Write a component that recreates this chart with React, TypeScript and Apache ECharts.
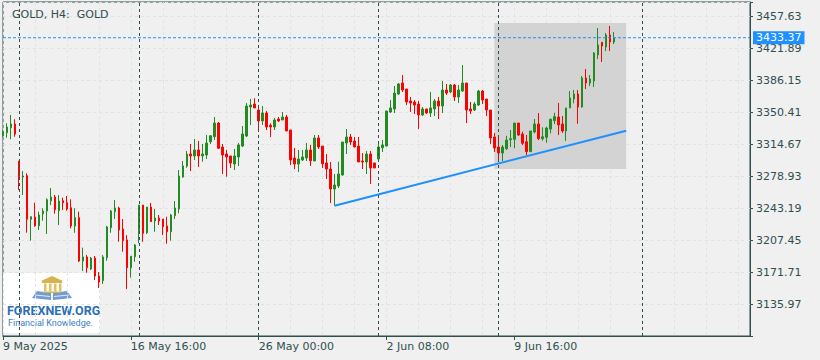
import React, { useEffect, useRef } from "react";
import * as echarts from "echarts";

// ---- data (GOLD, H4) ----
const opens = [
  3323.9, 3327.3, 3332.9, 3337.0, 3295.7, 3277.8, 3279.3, 3230.6, 3233.1, 3223.4,
  3236.8, 3239.8, 3251.3, 3255.5, 3240.2, 3251.3, 3249.1, 3243.5, 3223.1, 3232.4,
  3184.0, 3188.5, 3175.1, 3187.3, 3167.2, 3162.0, 3187.7, 3221.2, 3239.1, 3243.2,
  3219.7, 3207.5, 3176.5, 3188.8, 3217.8, 3246.5, 3215.6, 3244.3, 3228.7, 3232.0,
  3230.9, 3223.1, 3216.7, 3234.6, 3242.1, 3277.8, 3290.1, 3303.5, 3301.3, 3308.0,
  3301.3, 3302.4, 3317.2, 3322.8, 3338.1, 3311.3, 3303.5, 3301.3, 3292.3, 3300.2,
  3312.4, 3323.6, 3356.0, 3359.3, 3352.6, 3340.4, 3349.3, 3335.6, 3333.7, 3342.6,
  3341.5, 3344.8, 3330.3, 3299.0, 3292.3, 3296.8, 3299.0, 3308.0, 3295.7, 3321.4,
  3312.4, 3293.5, 3286.7, 3264.4, 3267.8, 3280.1, 3315.8, 3322.5, 3318.0, 3312.4,
  3295.7, 3294.6, 3303.5, 3293.5, 3297.9, 3310.5, 3312.4, 3350.4, 3353.8, 3370.5,
  3382.8, 3376.1, 3362.7, 3361.6, 3359.3, 3347.1, 3353.8, 3349.3, 3353.8, 3362.7,
  3357.1, 3375.0, 3372.8, 3380.6, 3367.2, 3373.9, 3382.8, 3353.8, 3352.6, 3358.2,
  3373.9, 3364.9, 3352.6, 3322.5, 3311.3, 3304.6, 3309.4, 3319.5, 3319.9, 3338.1,
  3325.8, 3317.2, 3306.1, 3328.1, 3337.0, 3320.6, 3322.2, 3331.4, 3340.7, 3344.8,
  3337.0, 3329.2, 3354.9, 3364.9, 3370.5, 3356.0, 3388.4, 3382.8, 3385.0, 3414.1,
  3428.3, 3423.0, 3436.4, 3428.6,
];
const closes = [
  3328.4, 3333.7, 3337.0, 3325.8, 3278.2, 3278.9, 3230.6, 3233.5, 3223.4, 3235.4,
  3239.8, 3252.5, 3255.5, 3241.3, 3251.0, 3249.1, 3242.1, 3223.1, 3232.4, 3184.0,
  3188.5, 3176.5, 3187.3, 3167.2, 3160.5, 3188.5, 3222.0, 3239.8, 3243.2, 3218.6,
  3206.7, 3176.5, 3189.3, 3201.9, 3246.5, 3214.9, 3244.3, 3227.9, 3232.0, 3228.7,
  3222.3, 3216.7, 3235.4, 3243.2, 3278.9, 3290.1, 3303.5, 3301.3, 3308.0, 3301.3,
  3303.5, 3315.8, 3323.9, 3338.1, 3309.9, 3302.4, 3300.2, 3293.5, 3301.3, 3313.6,
  3325.8, 3357.1, 3358.2, 3354.9, 3340.4, 3349.3, 3333.7, 3333.7, 3341.5, 3340.4,
  3344.8, 3329.2, 3296.8, 3292.3, 3297.9, 3300.2, 3308.0, 3296.0, 3321.4, 3311.3,
  3292.7, 3286.7, 3264.4, 3268.9, 3281.2, 3316.9, 3322.5, 3316.9, 3311.3, 3294.6,
  3294.6, 3303.5, 3287.9, 3287.9, 3311.3, 3313.6, 3351.5, 3354.9, 3371.6, 3381.7,
  3375.0, 3361.6, 3360.5, 3358.2, 3347.1, 3353.8, 3349.3, 3354.9, 3362.7, 3357.1,
  3375.0, 3371.6, 3380.6, 3367.2, 3375.0, 3382.8, 3352.6, 3351.5, 3359.3, 3373.9,
  3363.8, 3352.6, 3321.4, 3310.2, 3304.6, 3311.3, 3319.1, 3320.6, 3338.1, 3324.7,
  3315.5, 3306.1, 3329.2, 3337.0, 3320.6, 3322.8, 3332.5, 3342.3, 3345.2, 3335.9,
  3329.2, 3354.9, 3366.1, 3370.5, 3356.0, 3388.4, 3382.8, 3387.3, 3416.3, 3425.2,
  3424.1, 3436.4, 3428.6, 3433.37,
];
const lows = [
  3322.5, 3321.7, 3319.9, 3322.8, 3263.3, 3257.7, 3215.6, 3206.7, 3222.3, 3218.6,
  3229.0, 3214.2, 3246.5, 3236.8, 3224.2, 3241.0, 3240.2, 3220.5, 3215.6, 3182.9,
  3172.8, 3170.9, 3173.9, 3162.8, 3153.8, 3158.3, 3184.3, 3215.6, 3230.9, 3205.5,
  3194.4, 3152.7, 3165.4, 3183.2, 3203.8, 3205.5, 3214.2, 3227.9, 3216.7, 3224.2,
  3213.0, 3203.3, 3206.7, 3230.9, 3237.3, 3277.0, 3288.2, 3284.5, 3296.8, 3289.0,
  3294.9, 3297.9, 3314.7, 3319.1, 3309.1, 3281.2, 3278.2, 3287.9, 3285.6, 3290.1,
  3311.3, 3322.5, 3335.9, 3354.9, 3329.2, 3335.9, 3330.3, 3322.5, 3330.3, 3339.2,
  3341.5, 3329.2, 3291.2, 3286.7, 3283.4, 3295.7, 3295.7, 3290.1, 3295.7, 3309.1,
  3287.9, 3275.6, 3248.8, 3245.8, 3265.5, 3279.3, 3303.5, 3313.6, 3311.3, 3294.6,
  3286.7, 3281.2, 3270.0, 3287.9, 3294.6, 3305.7, 3312.4, 3349.3, 3349.3, 3369.4,
  3372.8, 3358.2, 3350.4, 3348.2, 3331.4, 3345.9, 3348.2, 3344.8, 3345.9, 3342.6,
  3349.3, 3369.4, 3371.6, 3362.7, 3360.5, 3372.8, 3338.1, 3348.2, 3351.5, 3357.1,
  3359.3, 3345.9, 3314.7, 3305.7, 3296.8, 3295.7, 3308.0, 3311.3, 3309.9, 3323.9,
  3313.6, 3302.4, 3306.1, 3326.6, 3319.1, 3318.4, 3316.1, 3326.6, 3337.0, 3324.7,
  3327.0, 3318.0, 3354.9, 3360.1, 3337.3, 3355.2, 3376.1, 3379.5, 3378.3, 3409.6,
  3406.3, 3418.5, 3418.5, 3426.4,
];
const highs = [
  3330.3, 3337.8, 3347.1, 3342.3, 3295.7, 3284.5, 3281.9, 3233.5, 3249.1, 3239.1,
  3242.9, 3254.0, 3265.5, 3257.7, 3257.7, 3254.7, 3256.6, 3252.9, 3242.9, 3239.1,
  3198.9, 3190.7, 3188.5, 3189.6, 3171.7, 3190.7, 3223.1, 3241.0, 3252.1, 3244.6,
  3230.9, 3213.0, 3189.3, 3203.0, 3246.5, 3246.5, 3244.3, 3248.8, 3242.1, 3235.4,
  3230.9, 3233.5, 3236.5, 3251.0, 3285.6, 3295.7, 3306.9, 3314.7, 3320.3, 3318.0,
  3314.7, 3324.7, 3324.7, 3344.8, 3339.2, 3314.7, 3308.0, 3301.3, 3309.1, 3315.8,
  3334.8, 3360.5, 3364.9, 3365.7, 3357.4, 3357.1, 3351.5, 3337.8, 3343.7, 3344.8,
  3350.4, 3347.1, 3330.3, 3310.2, 3308.0, 3308.0, 3315.8, 3313.6, 3324.7, 3324.7,
  3312.4, 3303.5, 3294.6, 3281.2, 3294.9, 3316.9, 3331.4, 3325.8, 3322.5, 3322.5,
  3304.6, 3306.9, 3306.9, 3293.5, 3315.8, 3319.1, 3351.5, 3363.8, 3379.5, 3382.8,
  3391.7, 3376.1, 3367.2, 3363.8, 3362.7, 3356.0, 3353.8, 3372.8, 3364.9, 3367.2,
  3385.0, 3381.7, 3381.7, 3381.7, 3380.6, 3402.9, 3382.8, 3361.6, 3361.6, 3375.0,
  3375.0, 3364.9, 3352.6, 3327.0, 3321.4, 3313.6, 3323.9, 3330.3, 3338.1, 3338.1,
  3328.4, 3324.7, 3329.2, 3342.6, 3349.3, 3333.3, 3334.0, 3342.9, 3349.6, 3360.5,
  3345.9, 3354.9, 3373.9, 3375.0, 3375.0, 3390.6, 3398.4, 3391.7, 3417.4, 3444.2,
  3428.6, 3438.6, 3446.5, 3439.8,
];

const slotCount = 188; // bar slots incl. empty future area
const categories = Array.from({ length: slotCount }, (_, i) => String(i));
const xTickIdx = [0, 32, 64, 96, 128];
const xTickText = ["9 May 2025", "16 May 16:00", "26 May 00:00", "2 Jun 08:00", "9 Jun 16:00"];
const separatorIdx = [4, 34, 64, 94, 124, 160];
const yTickLabels = [3135.97, 3171.71, 3207.45, 3243.19, 3278.93, 3314.67, 3350.41, 3386.15, 3421.89, 3457.63];
const yMin = 3100.23;
const yMax = 3473.27;
const yStep = 35.74;
const lastPrice = 3433.37;
const trendPoints = [
  [83, 3245.8],
  [156, 3329.5],
];
const boxIdx = [123, 156];
const boxPrice = [3286.8, 3449.8];

const AXIS = "#2f4f4f";
const GRIDC = "#e2e2e2";
const BLUE = "#1e90ff";
const FONT = "DejaVu Sans";

export default function App() {
  const ref = useRef<HTMLDivElement>(null);
  useEffect(() => {
    if (!ref.current) return;
    const chart = echarts.init(ref.current, null, { renderer: "svg" });
    const candles = opens.map((o, i) => [o, closes[i], lows[i], highs[i]]);
    const option: any = {
      animation: false,
      backgroundColor: "#f0f0f0",
      title: {
        text: "GOLD, H4:  GOLD",
        left: 7,
        top: 4,
        textStyle: { fontSize: 11, fontWeight: "normal", color: AXIS, fontFamily: FONT },
      },
      grid: {
        left: 2,
        right: 70,
        top: 2,
        bottom: 24,
        show: true,
        borderColor: AXIS,
        borderWidth: 1,
        backgroundColor: "transparent",
      },
      xAxis: {
        type: "category",
        data: categories,
        boundaryGap: false,
        axisLine: { show: true, lineStyle: { color: AXIS } },
        axisTick: {
          show: true,
          length: 4,
          interval: (i: number) => xTickIdx.includes(i),
          lineStyle: { color: AXIS },
        },
        axisLabel: {
          show: true,
          interval: (i: number) => xTickIdx.includes(i),
          formatter: (_v: string, i: number) => {
            const k = xTickIdx.indexOf(i);
            return k >= 0 ? xTickText[k] : "";
          },
          align: "left",
          margin: 5,
          color: AXIS,
          fontSize: 11,
          fontFamily: FONT,
        },
        splitLine: {
          show: true,
          interval: (i: number) => i % 8 === 0,
          lineStyle: { color: GRIDC, type: [3, 3], width: 1 },
        },
      },
      yAxis: {
        type: "value",
        position: "right",
        min: yMin,
        max: yMax,
        interval: yStep,
        axisLine: { show: true, lineStyle: { color: AXIS } },
        axisTick: { show: true, length: 3, lineStyle: { color: AXIS } },
        axisLabel: {
          margin: 6,
          color: AXIS,
          fontSize: 11,
          fontFamily: FONT,
          formatter: (v: number) => {
            const hit = yTickLabels.find((t) => Math.abs(t - v) < 0.01);
            return hit !== undefined ? hit.toFixed(2) : "";
          },
        },
        splitLine: { show: true, lineStyle: { color: GRIDC, type: [3, 3], width: 1 } },
      },
      series: [
        {
          type: "line",
          data: [],
          z: -1,
          silent: true,
          markArea: {
            silent: true,
            itemStyle: { color: "#d3d3d3" },
            data: [
              [
                { xAxis: categories[boxIdx[0]], yAxis: boxPrice[1] },
                { xAxis: categories[boxIdx[1]], yAxis: boxPrice[0] },
              ],
            ],
          },
        },
        {
          type: "candlestick",
          data: candles,
          barWidth: 2,
          itemStyle: {
            color: "#228b22",
            color0: "#ff0000",
            borderColor: "#228b22",
            borderColor0: "#ff0000",
            borderWidth: 1,
          },
          markLine: {
            silent: true,
            symbol: "none",
            animation: false,
            lineStyle: { color: AXIS, type: [3, 3], width: 1 },
            label: { show: false },
            data: separatorIdx.map((i) => ({ xAxis: categories[i] })),
          },
        },
        {
          // current price (bid) line across the whole chart
          type: "line",
          data: [
            [0, lastPrice],
            [slotCount - 1, lastPrice],
          ],
          symbol: "none",
          silent: true,
          z: 4,
          color: BLUE,
          lineStyle: { color: BLUE, type: [3, 2], width: 1 },
          endLabel: {
            show: true,
            distance: 3,
            formatter: () => lastPrice.toFixed(2),
            backgroundColor: BLUE,
            color: "#ffffff",
            fontSize: 11,
            fontFamily: FONT,
            padding: [1, 3, 1, 3],
          },
        },
        {
          type: "line",
          data: trendPoints,
          symbol: "none",
          silent: true,
          z: 3,
          color: BLUE,
          lineStyle: { color: BLUE, width: 2 },
        },
      ],
      graphic: [
        { type: "rect", shape: { x: 3, y: 273, width: 97, height: 60 }, style: { fill: "#ffffff" } },
        { type: "polygon", shape: { points: [[41, 281], [52, 276], [63, 281]] }, style: { fill: "#d8b24c" } },
        { type: "rect", shape: { x: 42, y: 281, width: 20, height: 2 }, style: { fill: "#d8b24c" } },
        { type: "rect", shape: { x: 44, y: 283.5, width: 2.5, height: 8 }, style: { fill: "#e2c060" } },
        { type: "rect", shape: { x: 49, y: 283.5, width: 2.5, height: 8 }, style: { fill: "#e2c060" } },
        { type: "rect", shape: { x: 54, y: 283.5, width: 2.5, height: 8 }, style: { fill: "#e2c060" } },
        { type: "rect", shape: { x: 59, y: 283.5, width: 2.5, height: 8 }, style: { fill: "#e2c060" } },
        { type: "polygon", shape: { points: [[32, 298], [37, 291], [51, 293], [51, 300]] }, style: { fill: "#6f9bd6" } },
        { type: "polygon", shape: { points: [[53, 293], [67, 291], [72, 298], [53, 300]] }, style: { fill: "#6f9bd6" } },
        { type: "line", shape: { x1: 35, y1: 295, x2: 50, y2: 296.5 }, style: { stroke: "#ffffff", lineWidth: 0.8 } },
        { type: "line", shape: { x1: 54, y1: 296.5, x2: 69, y2: 295 }, style: { stroke: "#ffffff", lineWidth: 0.8 } },
        { type: "rect", shape: { x: 43, y: 291.5, width: 18, height: 1.5 }, style: { fill: "#d8b24c" } },
        {
          type: "text",
          x: 7,
          y: 303.5,
          style: {
            text: "FOREXNEW.ORG",
            font: "bold 12.5px Roboto",
            fill: "#2c6fb7",
            textVerticalAlign: "top",
          },
        },
        {
          type: "text",
          x: 8,
          y: 318,
          style: {
            text: "Financial Knowledge.",
            font: "9px Roboto",
            fill: "#3d7cc4",
            textVerticalAlign: "top",
          },
        },
      ],
    };
    chart.setOption(option);
    return () => chart.dispose();
  }, []);
  return (
    <div
      ref={ref}
      style={{ position: "fixed", left: 0, top: 0, width: 820, height: 360 }}
    />
  );
}
